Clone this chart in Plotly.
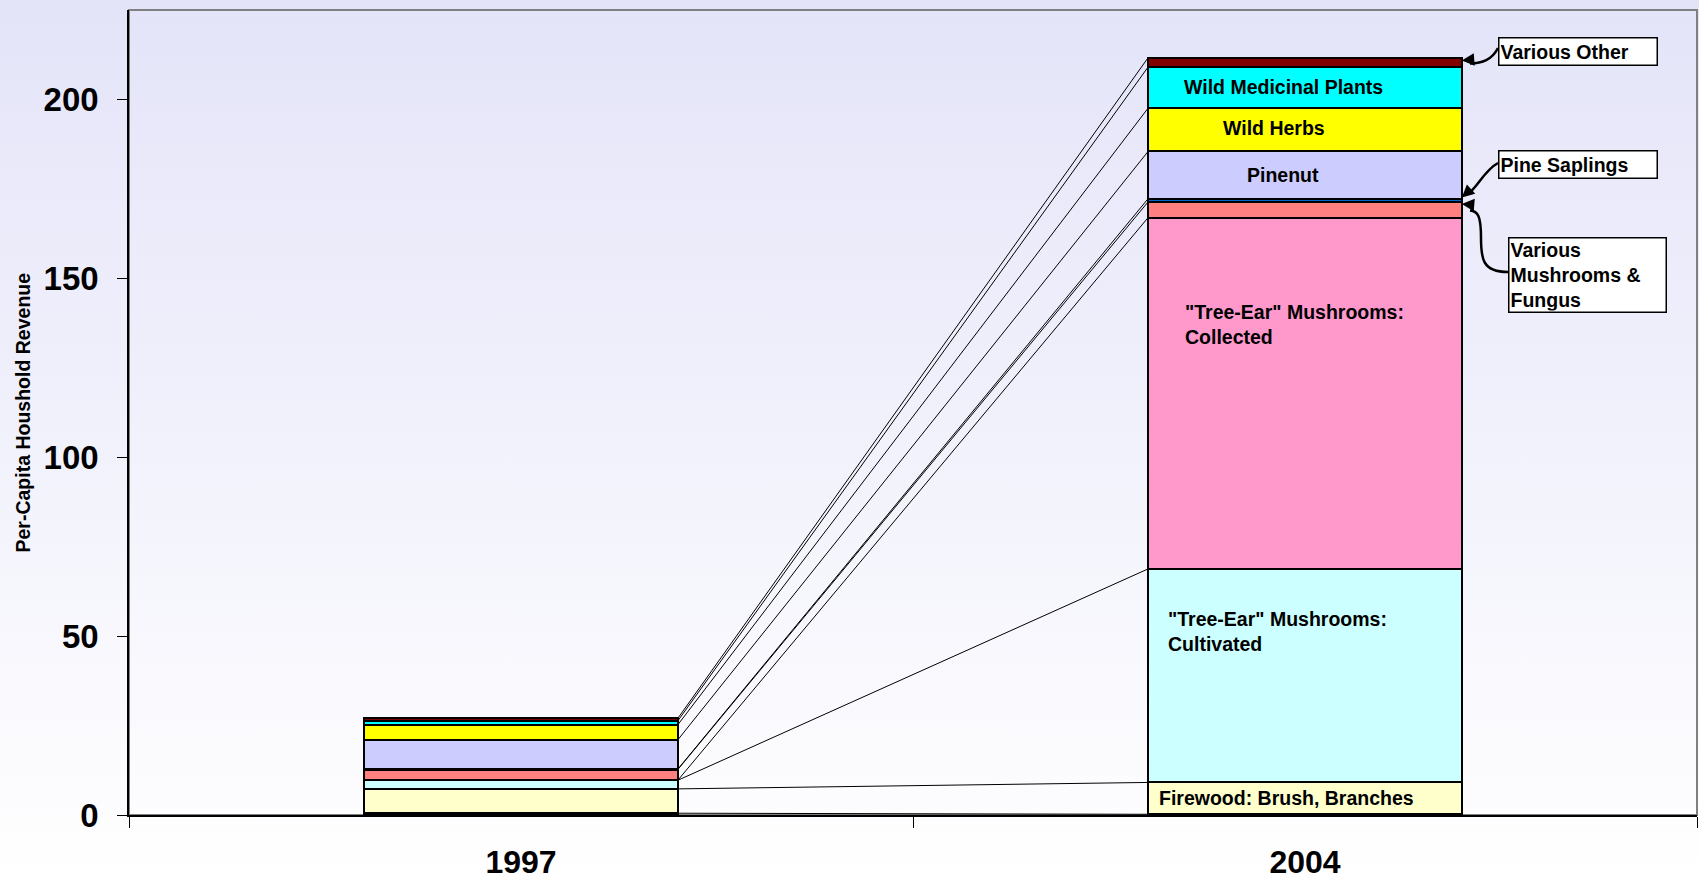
import base64
import plotly.graph_objects as go

# ---------------- data ----------------
years = ["1997", "2004"]
firewood_other = [0.5, 0.2]
firewood_brush = [6.8, 8.9]
treeear_cultivated = [2.4, 59.7]
treeear_collected = [0.0, 98.2]
various_mushrooms = [3.0, 4.4]
pine_saplings = [0.1, 0.9]
pinenut = [8.2, 13.2]
wild_herbs = [4.2, 12.1]
wild_medicinal = [1.1, 11.5]
various_other = [0.7, 2.6]
y_ticks = [0, 50, 100, 150, 200]

series_names = ["Firewood: Other", "Firewood: Brush, Branches",
                "\"Tree-Ear\" Mushrooms: Cultivated", "\"Tree-Ear\" Mushrooms: Collected",
                "Various Mushrooms & Fungus", "Pine Saplings", "Pinenut",
                "Wild Herbs", "Wild Medicinal Plants", "Various Other"]
series_values = [firewood_other, firewood_brush, treeear_cultivated, treeear_collected,
                 various_mushrooms, pine_saplings, pinenut, wild_herbs,
                 wild_medicinal, various_other]

# ---------------- styles ----------------
colors = ["#FFFFCC", "#FFFFCC", "#CCFFFF", "#FF99CC", "#FF8080", "#0066CC",
          "#CCCCFF", "#FFFF00", "#00FFFF", "#800000"]
FONT = "Liberation Sans, Arial, sans-serif"
BAR_W = 0.4
W, H = 1699, 882
ML, MR, MT, MB = 129, 2, 10, 67
PW, PH = W - ML - MR, H - MT - MB
X_RANGE = [-0.5, 1.5]
Y_RANGE = [0, 225]

def px2x(px):
    return X_RANGE[0] + (px - ML) / PW * (X_RANGE[1] - X_RANGE[0])

def py2y(py):
    return Y_RANGE[1] - (py - MT) / PH * (Y_RANGE[1] - Y_RANGE[0])

xpos = list(range(len(years)))

fig = go.Figure()

for name, vals, col in zip(series_names, series_values, colors):
    fig.add_trace(go.Bar(x=xpos, y=vals, name=name, width=BAR_W,
                         marker=dict(color=col, line=dict(color="black", width=2)),
                         hoverinfo="skip", showlegend=False))

# series lines connecting tops of each stacked segment
cum = [0.0] * len(years)
for vals in series_values:
    cum = [c + v for c, v in zip(cum, vals)]
    fig.add_trace(go.Scatter(x=[xpos[0] + BAR_W / 2, xpos[1] - BAR_W / 2],
                             y=[cum[0], cum[1]], mode="lines",
                             line=dict(color="black", width=1),
                             hoverinfo="skip", showlegend=False))

# ---------------- annotations ----------------
ann = []
lab_font = dict(family=FONT, size=19.5, color="black", weight="bold")

def seg_mid(idx, j):
    base = sum(series_values[k][j] for k in range(idx))
    return base + series_values[idx][j] / 2

ann.append(dict(x=px2x(1283), y=seg_mid(8, 1), text="Wild Medicinal Plants",
                showarrow=False, font=lab_font, xanchor="center", yanchor="middle"))
ann.append(dict(x=px2x(1274), y=py2y(128), text="Wild Herbs",
                showarrow=False, font=lab_font, xanchor="center", yanchor="middle"))
ann.append(dict(x=px2x(1283), y=seg_mid(6, 1), text="Pinenut",
                showarrow=False, font=lab_font, xanchor="center", yanchor="middle"))
ann.append(dict(x=px2x(1183), y=py2y(324), text="\"Tree-Ear\" Mushrooms:<br>Collected",
                showarrow=False, font=lab_font, xanchor="left", yanchor="middle", align="left"))
ann.append(dict(x=px2x(1166), y=py2y(631), text="\"Tree-Ear\" Mushrooms:<br>Cultivated",
                showarrow=False, font=lab_font, xanchor="left", yanchor="middle", align="left"))
ann.append(dict(x=px2x(1157), y=py2y(797.5), text="Firewood: Brush, Branches",
                showarrow=False, font=lab_font, xanchor="left", yanchor="middle", align="left"))

box_common = dict(showarrow=False, font=lab_font, xanchor="center", yanchor="middle",
                  align="left", bgcolor="white", bordercolor="black", borderwidth=1.5,
                  borderpad=1)
ann.append(dict(x=px2x(1578), y=py2y(51), text="Various Other", width=155, height=24, **box_common))
ann.append(dict(x=px2x(1578), y=py2y(164.7), text="Pine Saplings", width=155, height=24, **box_common))
ann.append(dict(x=px2x(1587), y=py2y(274.7), text="Various<br>Mushrooms &<br>Fungus",
                width=154, height=71, **box_common))

# y axis title
ann.append(dict(xref="paper", yref="paper", x=(22 - ML) / PW, y=0.5,
                text="Per-Capita Houshold Revenue", textangle=-90, showarrow=False,
                font=dict(family=FONT, size=19.5, color="black", weight="bold"),
                xanchor="center", yanchor="middle"))

# arrowheads
top2004 = [sum(series_values[k][1] for k in range(i + 1)) for i in range(len(series_values))]
bar_right = xpos[1] + BAR_W / 2
arrow_common = dict(text="", showarrow=True, arrowhead=2, arrowsize=1, arrowwidth=2.5,
                    arrowcolor="black", axref="pixel", ayref="pixel")
ann.append(dict(x=bar_right, y=top2004[9] - 0.8, ax=12, ay=-1, **arrow_common))
ann.append(dict(x=bar_right, y=top2004[5] + 0.3, ax=10, ay=-9, **arrow_common))
ann.append(dict(x=bar_right, y=top2004[4] - 0.6, ax=12, ay=1, **arrow_common))

def path(points):
    (x0, y0) = points[0]
    s = f"M {px2x(x0)},{py2y(y0)}"
    for i in range(1, len(points), 3):
        c1, c2, p = points[i], points[i + 1], points[i + 2]
        s += f" C {px2x(c1[0])},{py2y(c1[1])} {px2x(c2[0])},{py2y(c2[1])} {px2x(p[0])},{py2y(p[1])}"
    return s

shapes = [
    dict(type="rect", xref="paper", yref="paper", x0=0, x1=1, y0=0, y1=1,
         line=dict(color="#808080", width=2), layer="below"),
    dict(type="path", xref="x", yref="y",
         path=path([(1498, 48), (1492, 60), (1482, 63), (1470, 63.5)]),
         line=dict(color="black", width=2.5)),
    dict(type="path", xref="x", yref="y",
         path=path([(1498, 163), (1485, 170), (1478, 186), (1469, 193)]),
         line=dict(color="black", width=2.5)),
    dict(type="path", xref="x", yref="y",
         path=path([(1508, 272), (1482, 272), (1481, 258), (1481, 238),
                    (1481, 216), (1478, 211), (1470, 210.5)]),
         line=dict(color="black", width=2.5)),
]

# background gradient
svg = (f'<svg xmlns="http://www.w3.org/2000/svg" width="{W}" height="{H}" '
       f'viewBox="0 0 {W} {H}" preserveAspectRatio="none">'
       '<defs><linearGradient id="g" x1="0" y1="0" x2="0" y2="1">'
       '<stop offset="0" stop-color="#E4E4F9"/><stop offset="1" stop-color="#FFFFFF"/>'
       '</linearGradient></defs>'
       f'<rect x="0" y="0" width="{W}" height="{H}" fill="url(#g)"/></svg>')
src = "data:image/svg+xml;base64," + base64.b64encode(svg.encode()).decode()

fig.update_layout(
    width=W, height=H, barmode="stack",
    margin=dict(l=ML, r=MR, t=MT, b=MB, autoexpand=False),
    paper_bgcolor="#F2F2FC", plot_bgcolor="white",
    font=dict(family=FONT, color="black"),
    annotations=ann, shapes=shapes,
    images=[dict(source=src, xref="paper", yref="paper", x=-ML / PW, y=1 + MT / PH,
                 sizex=W / PW, sizey=H / PH, sizing="stretch", xanchor="left",
                 yanchor="top", layer="below")],
    xaxis=dict(range=X_RANGE, tickvals=xpos, ticktext=years, ticks="",
               tickfont=dict(family=FONT, size=32, color="black", weight="bold"),
               ticklabelstandoff=18,
               showline=True, linecolor="black", linewidth=1.5, showgrid=False,
               zeroline=False, fixedrange=True,
               minor=dict(tick0=-0.5, dtick=1, ticks="outside", ticklen=11,
                          tickcolor="black", tickwidth=1, showgrid=False)),
    yaxis=dict(range=Y_RANGE, tickvals=y_ticks, ticks="outside", ticklen=10,
               tickcolor="black", tickwidth=1,
               tickfont=dict(family=FONT, size=33, color="black", weight="bold"),
               ticklabelstandoff=12,
               showline=True, linecolor="black", linewidth=1.5, showgrid=False,
               zeroline=False, fixedrange=True),
)

fig.write_html("out.html", config={"displayModeBar": False},
               post_script="document.body.style.margin='0';document.body.style.overflow='hidden';")
